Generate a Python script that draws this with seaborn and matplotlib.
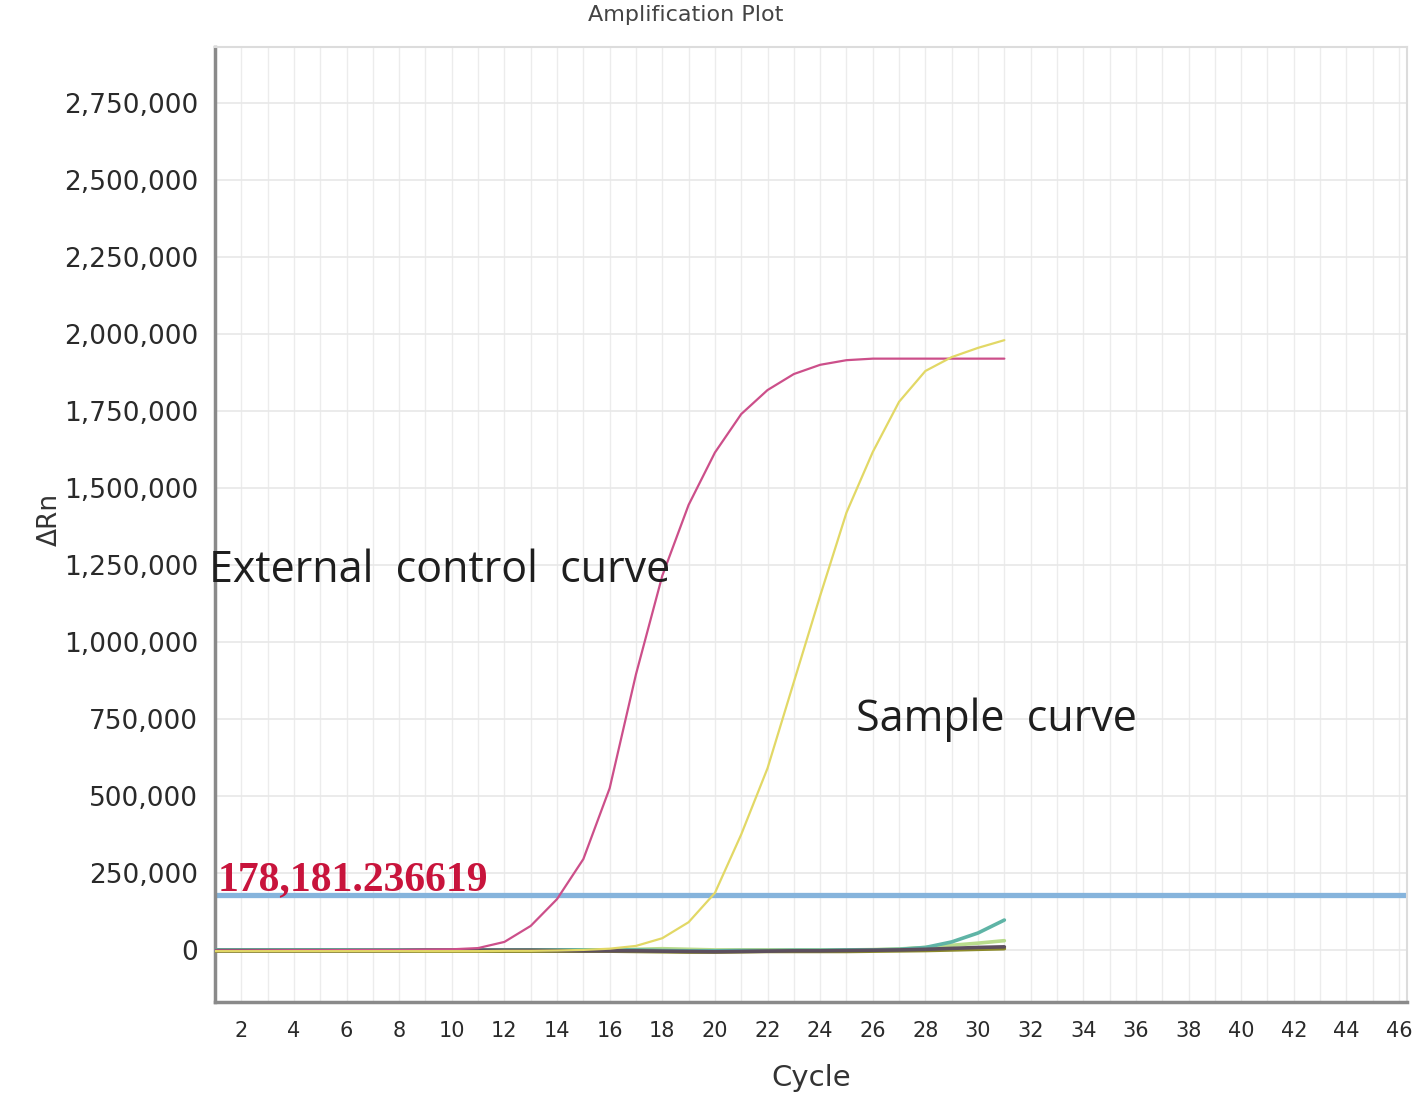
import numpy as np
import pandas as pd
import matplotlib
matplotlib.use("Agg")
import matplotlib.pyplot as plt
import seaborn as sns

cycles = list(range(1, 32))

external_control = [-2000, -2000, -1500, -1000, -1000, -500, 0, 0, 1000, 2000,
                     6000, 26000, 78000, 165000, 295000, 525000, 895000, 1215000,
                     1445000, 1615000, 1740000, 1818000, 1870000, 1900000, 1915000,
                     1920000, 1920000, 1920000, 1920000, 1920000, 1920000]
sample = [-4000, -4000, -4000, -4000, -4000, -4000, -4000, -4000, -4000, -4000,
          -4000, -3000, -3000, -2000, 0, 4000, 13000, 38000, 90000, 185000,
          375000, 590000, 870000, 1150000, 1420000, 1617000, 1780000, 1880000,
          1925000, 1955000, 1980000]
baseline_olive = [-4000, -4000, -4000, -4000, -4000, -4000, -4000, -4000, -4000, -4000,
                  -4000, -4000, -4000, -4000, -4000, -4000, -5000, -6000, -7000, -7000,
                  -6000, -5000, -5000, -5000, -5000, -4000, -3000, -2000, 0, 2000, 4000]
baseline_dark = [-2000, -2000, -2000, -2000, -2000, -2000, -2000, -2000, -1000, -1000,
                 -1000, -1000, -1000, -2000, -3000, -3000, -3000, -4000, -5000, -6000,
                 -5000, -4000, -3000, -3000, -2000, -1000, 0, 2000, 5000, 8000, 10000]
baseline_teal = [0, 0, 0, 0, 0, 0, 0, 0, 0, 0,
                 0, 0, 0, 0, 0, 0, 0, -2000, -3000, -3000,
                 -2000, -2000, -1000, -1000, 0, 0, 2000, 8000, 26000, 55000, 97000]
baseline_green = [0, 0, 0, 0, 0, 0, 0, 0, 0, 0,
                  0, 0, 0, 0, 0, 0, 2000, 4000, 2000, 0,
                  0, 0, 0, 0, 0, 1000, 3000, 8000, 15000, 22000, 30000]

threshold = 178181.236619
threshold_label = "178,181.236619"
x_ticks = list(range(2, 47, 2))
y_ticks = list(range(0, 2750001, 250000))

series = {
    "baseline green": baseline_green,
    "baseline teal": baseline_teal,
    "baseline olive": baseline_olive,
    "baseline dark": baseline_dark,
    "External control": external_control,
    "Sample": sample,
}
palette = {
    "baseline green": "#b9dc8c",
    "baseline teal": "#5fb4a6",
    "baseline olive": "#8c8a2a",
    "baseline dark": "#5d4f5e",
    "External control": "#cc4f8a",
    "Sample": "#e2d866",
}
rows = []
for name, vals in series.items():
    for c, v in zip(cycles, vals):
        rows.append({"Cycle": c, "dRn": v, "well": name})
df = pd.DataFrame(rows)

sns.set_style("white")
plt.rcParams["font.family"] = ["DejaVu Sans"]

fig = plt.figure(figsize=(14.18, 11.03), dpi=100)
ax = fig.add_axes([0.1516, 0.0916, 0.8406, 0.8658])

# grid
for c in range(1, 47):
    ax.axvline(c, color="#ececec", lw=1.0, zorder=0)
for y in y_ticks:
    ax.axhline(y, color="#e8e8e8", lw=1.2, zorder=0)

ax.axhline(threshold, color="#86b4dc", lw=3.8, zorder=1)

sns.lineplot(data=df, x="Cycle", y="dRn", hue="well", palette=palette,
             hue_order=list(series.keys()), lw=1.6, legend=False, ax=ax,
             estimator=None, zorder=3)
for line in ax.lines[-6:-2]:
    line.set_linewidth(2.6)

ax.set_xlim(1, 46.3)
ax.set_ylim(-169000, 2932000)
ax.set_xticks(x_ticks)
ax.set_yticks(y_ticks)
ax.set_yticklabels([f"{v:,}" for v in y_ticks], fontsize=19, color="#2a2a2a")
ax.set_xticklabels([str(v) for v in x_ticks], fontsize=15, color="#2a2a2a")
ax.tick_params(axis="both", length=4, width=1.2, color="#999999", pad=8, direction="out")
ax.tick_params(axis="x", pad=10)

for s in ["left", "bottom"]:
    ax.spines[s].set_color("#8a8a8a")
    ax.spines[s].set_linewidth(2.5)
for s in ["top", "right"]:
    ax.spines[s].set_color("#dcdcdc")
    ax.spines[s].set_linewidth(1.5)

ax.set_xlabel("Cycle", fontsize=21, color="#333333", labelpad=16)
ax.set_ylabel("ΔRn", fontsize=19, color="#333333", labelpad=14)
ax.yaxis.set_label_coords(-0.128, 0.505)

fig.text(0.4835, 0.986, "Amplification Plot", ha="center", va="center",
         fontsize=16, color="#444444")

ax.text(-0.005, 0.452, "External  control  curve", transform=ax.transAxes,
        fontsize=31, color="#1e1e1e", family=["Open Sans", "DejaVu Sans"],
        ha="left", va="center", zorder=5)
ax.text(0.5375, 0.295, "Sample  curve", transform=ax.transAxes,
        fontsize=31, color="#1e1e1e", family=["Open Sans", "DejaVu Sans"],
        ha="left", va="center", zorder=5)
ax.text(0.002, 0.127, threshold_label, transform=ax.transAxes,
        fontsize=30, color="#c8143c", family=["Liberation Serif", "DejaVu Serif"],
        fontweight="bold", ha="left", va="center", zorder=5)

fig.savefig("out.png", dpi=100)
